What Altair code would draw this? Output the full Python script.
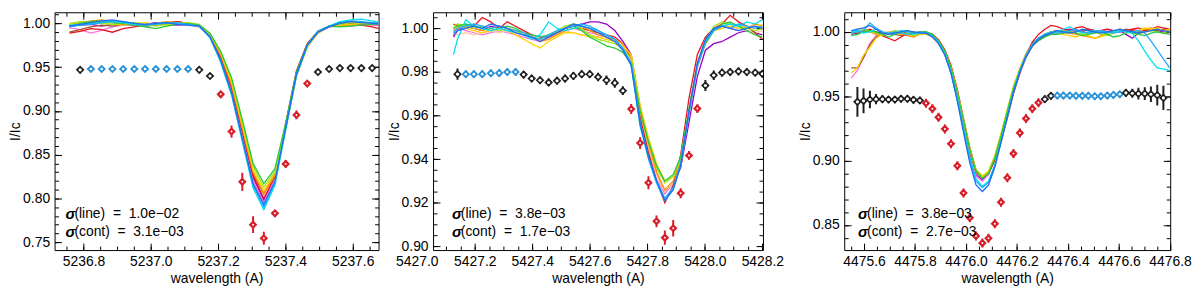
import altair as alt
import pandas as pd

FONT = "Liberation Sans"
FS = 14
MAJ = 7
MIN = 4
H = 240

LINE_COLOR = {
    "purple": "#9b00c8", "pink": "#ff70e0", "brown": "#a0522d", "peach": "#ffc89a",
    "red": "#e8141e", "orange": "#ff9600", "yellow": "#ffd200", "lime": "#a0e614",
    "green": "#28c83c", "cyan": "#00e1f0", "lightblue": "#1eaaff", "blue": "#1e6ef0",
}
POINT_COLOR = {"k": "#1e1e1e", "b": "#2a92d8", "r": "#d81e28"}
HOLE_SIZE = {"k": 10, "b": 4, "r": 4}

# ---------------- Panel 1 : 5237 A ----------------
P1_WL = [5236.758, 5236.790, 5236.822, 5236.854, 5236.886, 5236.918, 5236.951, 5236.983,
         5237.015, 5237.047, 5237.079, 5237.111, 5237.144, 5237.176, 5237.208, 5237.240,
         5237.272, 5237.304, 5237.336, 5237.369, 5237.401, 5237.433, 5237.465, 5237.497,
         5237.530, 5237.562, 5237.594, 5237.626, 5237.658, 5237.690, 5237.723]
P1_LINES = {
    "purple": [0.997, 0.998, 0.999, 0.997, 0.999, 1.000, 0.998, 0.999, 1.001, 0.999, 0.998, 0.999, 0.997]
    + [0.986, 0.962, 0.926, 0.875, 0.824, 0.798, 0.826, 0.882, 0.942, 0.975, 0.990, 0.997]
    + [0.999, 1.000, 0.999, 1.001, 0.999, 0.998],
    "pink": [0.995, 0.993, 0.989, 0.992, 0.996, 0.998, 0.999, 0.997, 0.999, 1.000, 0.999, 0.998, 0.996]
    + [0.985, 0.960, 0.923, 0.872, 0.820, 0.795, 0.824, 0.880, 0.941, 0.974, 0.990, 0.996]
    + [0.998, 0.997, 0.999, 0.998, 0.997, 0.996],
    "brown": [0.990, 0.993, 0.996, 0.998, 0.997, 0.999, 0.998, 0.997, 0.998, 1.000, 1.002, 1.000, 0.997]
    + [0.987, 0.963, 0.928, 0.878, 0.828, 0.805, 0.829, 0.884, 0.944, 0.976, 0.991, 0.997]
    + [0.999, 1.000, 1.001, 1.000, 0.999, 0.998],
    "red": [0.989, 0.991, 0.994, 0.993, 0.990, 0.994, 0.996, 0.998, 0.999, 1.001, 1.002, 1.000, 0.998]
    + [0.986, 0.962, 0.927, 0.877, 0.826, 0.800, 0.825, 0.886, 0.946, 0.977, 0.991, 0.997]
    + [1.000, 0.999, 0.998, 0.996, 0.993, 0.990],
    "orange": [0.999, 1.001, 1.003, 1.004, 1.002, 1.000, 0.999, 0.998, 1.000, 1.002, 1.001, 0.999, 0.997]
    + [0.987, 0.964, 0.930, 0.880, 0.830, 0.806, 0.826, 0.880, 0.940, 0.973, 0.989, 0.996]
    + [0.997, 0.998, 1.000, 1.001, 1.003, 1.005],
    "yellow": [0.998, 1.000, 1.002, 1.001, 0.999, 0.998, 1.000, 1.001, 0.999, 0.998, 1.000, 1.000, 0.998]
    + [0.988, 0.966, 0.933, 0.884, 0.833, 0.809, 0.829, 0.880, 0.940, 0.973, 0.990, 0.997]
    + [0.998, 0.999, 1.000, 1.000, 1.001, 1.000],
    "lime": [1.000, 1.002, 1.001, 1.000, 0.999, 1.000, 1.001, 0.999, 0.997, 0.999, 1.000, 1.001, 0.999]
    + [0.988, 0.967, 0.936, 0.887, 0.837, 0.813, 0.831, 0.884, 0.943, 0.975, 0.990, 0.997]
    + [0.999, 1.001, 1.000, 0.999, 1.000, 1.001],
    "green": [0.997, 1.000, 1.002, 1.003, 1.001, 1.000, 0.998, 0.996, 0.994, 0.997, 0.999, 1.000, 0.998]
    + [0.989, 0.968, 0.938, 0.890, 0.840, 0.817, 0.834, 0.886, 0.945, 0.976, 0.991, 0.997]
    + [0.996, 0.997, 0.998, 0.999, 1.000, 1.001],
    "cyan": [0.998, 0.999, 1.000, 1.001, 1.002, 1.001, 0.999, 0.998, 1.000, 1.001, 1.000, 0.998, 0.997]
    + [0.984, 0.955, 0.918, 0.865, 0.812, 0.787, 0.815, 0.878, 0.940, 0.974, 0.990, 0.997]
    + [1.002, 1.004, 1.005, 1.003, 1.001, 1.000],
    "lightblue": [0.996, 0.998, 0.999, 1.001, 1.003, 1.002, 1.000, 0.998, 0.999, 1.000, 1.001, 0.999, 0.997]
    + [0.984, 0.957, 0.920, 0.867, 0.815, 0.790, 0.818, 0.880, 0.942, 0.975, 0.991, 0.997]
    + [1.001, 1.003, 1.002, 1.001, 1.000, 0.999],
    "blue": [0.997, 0.999, 1.001, 1.003, 1.004, 1.002, 1.000, 0.999, 1.000, 1.001, 0.999, 0.998, 0.997]
    + [0.985, 0.958, 0.921, 0.869, 0.817, 0.793, 0.820, 0.881, 0.942, 0.975, 0.990, 0.996]
    + [1.000, 1.002, 1.001, 1.000, 0.999, 0.998],
}
P1_PX = P1_WL[1:29]
P1_PY = [0.947, 0.948, 0.948, 0.948, 0.948, 0.948, 0.948, 0.948, 0.948, 0.948, 0.948,
         0.947, 0.940, 0.919, 0.8765, 0.819, 0.770, 0.7545, 0.783, 0.8395, 0.8954, 0.9313,
         0.9445, 0.948, 0.949, 0.949, 0.949, 0.949]
P1_PE = [0.003, 0.003, 0.003, 0.003, 0.003, 0.003, 0.003, 0.003, 0.003, 0.003, 0.003,
         0.003, 0.003, 0.004, 0.007, 0.0105, 0.0095, 0.0075, 0.004, 0.0045, 0.005, 0.003,
         0.003, 0.003, 0.003, 0.003, 0.003, 0.003]
P1_PC = "k" + "bbbbbbbbbb" + "kk" + "rrrrrrrrr" + "kkkkkk"
P1_XDOM = [5236.714, 5237.677]
P1_YDOM = [0.741, 1.0128]
P1_XMAJ = [5236.8, 5237.0, 5237.2, 5237.4, 5237.6]
P1_XMIN = [5236.75, 5236.8, 5236.85, 5236.9, 5236.95, 5237.0, 5237.05, 5237.1, 5237.15, 5237.2,
           5237.25, 5237.3, 5237.35, 5237.4, 5237.45, 5237.5, 5237.55, 5237.6, 5237.65]
P1_YMAJ = [0.75, 0.80, 0.85, 0.90, 0.95, 1.00]
P1_YMIN = [0.75, 0.76, 0.77, 0.78, 0.79, 0.80, 0.81, 0.82, 0.83, 0.84, 0.85, 0.86, 0.87, 0.88,
           0.89, 0.90, 0.91, 0.92, 0.93, 0.94, 0.95, 0.96, 0.97, 0.98, 0.99, 1.00, 1.01]
P1_SIGMA = [("σ", "(line)\u00a0\u00a0=\u00a0\u00a01.0e\u221202"),
            ("σ", "(cont)\u00a0\u00a0=\u00a0\u00a03.1e\u221203")]

# ---------------- Panel 2 : 5427 A ----------------
P2_WL = [5427.126, 5427.140, 5427.169, 5427.197, 5427.226, 5427.256, 5427.285, 5427.313,
         5427.342, 5427.370, 5427.398, 5427.427, 5427.457, 5427.486, 5427.514, 5427.543,
         5427.572, 5427.600, 5427.629, 5427.658, 5427.687, 5427.715, 5427.744, 5427.775,
         5427.804, 5427.832, 5427.861, 5427.890, 5427.916, 5427.945, 5427.974, 5428.002,
         5428.031, 5428.060, 5428.088, 5428.117, 5428.146, 5428.175, 5428.200]
P2_LINES = {
    "purple": [0.996, 0.999, 1.001, 1.000, 0.999, 1.001, 1.000, 0.999, 0.998, 0.997, 0.996, 0.995, 0.996]
    + [0.998, 1.000, 1.001, 1.002, 1.003, 1.003, 1.002, 0.999, 0.994, 0.988, 0.964, 0.948, 0.934]
    + [0.925, 0.929, 0.936, 0.957, 0.978, 0.990, 0.993, 0.994, 0.996, 0.998, 0.999, 0.998, 0.997],
    "pink": [0.999, 1.000, 0.999, 0.998, 0.997, 0.998, 0.999, 0.998, 0.997, 0.996, 0.995, 0.994, 0.996]
    + [0.998, 0.999, 1.000, 0.999, 0.998, 0.997, 0.996, 0.994, 0.990, 0.983, 0.958, 0.943, 0.931]
    + [0.924, 0.929, 0.937, 0.961, 0.982, 0.993, 0.999, 1.001, 1.000, 0.999, 1.000, 1.001, 1.000],
    "peach": [0.998, 0.997, 0.998, 0.997, 0.998, 0.999, 0.998, 0.999, 0.998, 0.997, 0.996, 0.995, 0.996]
    + [0.997, 0.999, 0.998, 0.997, 0.997, 0.996, 0.995, 0.994, 0.991, 0.985, 0.960, 0.945, 0.933]
    + [0.925, 0.929, 0.938, 0.962, 0.983, 0.994, 0.999, 1.000, 1.001, 1.000, 0.999, 0.998, 0.999],
    "red": [1.002, 1.001, 1.000, 1.001, 1.005, 1.003, 1.000, 1.003, 1.001, 0.999, 0.997, 0.996, 0.996]
    + [0.998, 1.000, 1.001, 1.000, 0.999, 0.998, 0.997, 0.996, 0.993, 0.986, 0.959, 0.943, 0.930]
    + [0.920, 0.928, 0.942, 0.968, 0.988, 0.996, 1.000, 1.002, 1.006, 1.003, 1.001, 0.998, 0.995],
    "orange": [0.999, 1.000, 1.001, 1.000, 0.999, 1.000, 1.001, 1.000, 0.999, 0.998, 0.996, 0.994, 0.995]
    + [0.997, 0.999, 1.000, 1.001, 0.999, 0.997, 0.996, 0.995, 0.993, 0.987, 0.962, 0.947, 0.934]
    + [0.926, 0.930, 0.939, 0.963, 0.984, 0.995, 1.000, 1.001, 1.002, 1.001, 1.000, 1.002, 1.001],
    "yellow": [1.000, 1.001, 1.000, 0.999, 0.998, 0.999, 1.000, 0.999, 0.997, 0.995, 0.993, 0.991, 0.994]
    + [0.996, 0.998, 0.998, 0.997, 0.996, 0.996, 0.995, 0.994, 0.992, 0.988, 0.965, 0.950, 0.938]
    + [0.930, 0.932, 0.940, 0.963, 0.984, 0.995, 0.999, 1.000, 1.001, 1.000, 1.001, 1.000, 1.002],
    "lime": [1.001, 1.002, 1.001, 1.000, 1.001, 1.000, 0.999, 1.000, 0.999, 0.997, 0.996, 0.995, 0.997]
    + [0.999, 1.001, 1.002, 1.000, 0.997, 0.995, 0.994, 0.993, 0.991, 0.986, 0.963, 0.948, 0.936]
    + [0.929, 0.932, 0.940, 0.962, 0.983, 0.994, 1.001, 1.003, 1.002, 1.001, 1.000, 0.999, 1.000],
    "green": [1.000, 1.001, 1.002, 1.001, 1.000, 0.999, 1.000, 1.001, 1.000, 0.998, 0.997, 0.996, 0.997]
    + [0.998, 1.000, 1.001, 0.999, 0.996, 0.994, 0.992, 0.991, 0.989, 0.984, 0.962, 0.948, 0.937]
    + [0.930, 0.933, 0.941, 0.963, 0.983, 0.993, 0.999, 1.002, 1.003, 1.001, 0.999, 0.997, 0.996],
    "cyan": [0.988, 0.995, 1.004, 1.001, 1.000, 0.999, 1.000, 0.999, 0.998, 0.997, 0.995, 0.997, 1.003]
    + [1.000, 0.999, 1.000, 1.001, 1.000, 0.999, 0.997, 0.995, 0.991, 0.983, 0.955, 0.940, 0.929]
    + [0.921, 0.926, 0.937, 0.961, 0.983, 0.994, 1.000, 1.001, 1.002, 1.001, 1.003, 1.002, 1.004],
    "lightblue": [0.998, 1.000, 1.001, 1.002, 1.001, 1.000, 1.001, 1.000, 0.999, 0.998, 0.996, 0.995, 0.997]
    + [0.999, 1.000, 1.001, 1.002, 1.001, 0.999, 0.997, 0.995, 0.991, 0.984, 0.957, 0.941, 0.930]
    + [0.922, 0.927, 0.938, 0.962, 0.983, 0.994, 0.999, 1.001, 1.000, 1.002, 1.001, 1.000, 1.001],
    "blue": [0.997, 0.999, 1.000, 1.001, 1.000, 1.002, 1.001, 1.000, 0.998, 0.997, 0.996, 0.994, 0.996]
    + [0.998, 1.000, 1.002, 1.001, 1.000, 0.998, 0.996, 0.994, 0.990, 0.983, 0.956, 0.941, 0.930]
    + [0.921, 0.926, 0.937, 0.962, 0.984, 0.995, 1.000, 1.001, 1.000, 0.999, 1.000, 1.001, 1.000],
}
P2_PX = P2_WL[1:39]
P2_PY = [0.979, 0.979, 0.979, 0.979, 0.9794, 0.9795, 0.980, 0.980,
         0.9788, 0.977, 0.9762, 0.9752, 0.976, 0.977, 0.9782, 0.979, 0.979, 0.9777, 0.9762, 0.975, 0.9714,
         0.963, 0.9474, 0.9292, 0.9115, 0.904, 0.9083, 0.9244, 0.9417, 0.9632,
         0.9738, 0.9785, 0.9797, 0.980, 0.9803, 0.980, 0.9797, 0.9792]
P2_PE = [0.0026, 0.0017, 0.0017, 0.0017, 0.0017, 0.0017, 0.0017, 0.0017,
         0.0017, 0.0017, 0.0017, 0.0018, 0.0018, 0.0018, 0.0018, 0.0018, 0.0018, 0.0019, 0.0022, 0.0022, 0.002,
         0.0023, 0.0027, 0.003, 0.0027, 0.0033, 0.0038, 0.0023, 0.002, 0.002,
         0.0025, 0.0022, 0.0018, 0.0018, 0.0018, 0.0017, 0.0017, 0.0017]
P2_PC = "k" + "bbbbbbb" + "kkkkkkkkkkkkk" + "rrrrrrrrr" + "kkkkkkkk"
P2_XDOM = [5427.055, 5428.2022]
P2_YDOM = [0.8983, 1.0074]
P2_XMAJ = [5427.2, 5427.4, 5427.6, 5427.8, 5428.0, 5428.2]
P2_XMIN = [5427.10, 5427.15, 5427.20, 5427.25, 5427.30, 5427.35, 5427.40, 5427.45, 5427.50,
           5427.55, 5427.60, 5427.65, 5427.70, 5427.75, 5427.80, 5427.85, 5427.90, 5427.95,
           5428.00, 5428.05, 5428.10, 5428.15, 5428.20]
P2_YMAJ = [0.90, 0.92, 0.94, 0.96, 0.98, 1.00]
P2_YMIN = [0.900, 0.905, 0.910, 0.915, 0.920, 0.925, 0.930, 0.935, 0.940, 0.945, 0.950,
           0.955, 0.960, 0.965, 0.970, 0.975, 0.980, 0.985, 0.990, 0.995, 1.000, 1.005]
P2_EXTRA_XLABELS = [5427.0]
P2_SIGMA = [("σ", "(line)\u00a0\u00a0=\u00a0\u00a03.8e\u221203"),
            ("σ", "(cont)\u00a0\u00a0=\u00a0\u00a01.7e\u221203")]

# ---------------- Panel 3 : 4476 A ----------------
P3_WL = [4475.550,
         4475.574, 4475.598, 4475.623, 4475.647, 4475.672, 4475.696, 4475.721, 4475.745, 4475.770, 4475.794,
         4475.819, 4475.843, 4475.868, 4475.892, 4475.917, 4475.941, 4475.966, 4475.990, 4476.015, 4476.039,
         4476.064, 4476.088, 4476.113, 4476.137, 4476.162, 4476.186, 4476.211, 4476.235, 4476.260, 4476.284,
         4476.309, 4476.333, 4476.358, 4476.382, 4476.407, 4476.431, 4476.456, 4476.480, 4476.505, 4476.529,
         4476.554, 4476.578, 4476.603, 4476.627, 4476.652, 4476.676, 4476.701, 4476.725, 4476.750, 4476.774,
         4476.799]
P3_LINES = {
    "purple": [0.998, 0.999, 1.000, 1.001, 1.000, 0.999, 0.998, 0.999, 1.000, 0.999, 0.998, 0.999]
    + [0.999, 0.997, 0.992, 0.983, 0.970, 0.950, 0.928, 0.905, 0.889, 0.885, 0.890, 0.902, 0.918, 0.936, 0.953, 0.968, 0.980, 0.989, 0.994, 0.997, 0.999]
    + [1.000, 1.001, 1.002, 1.001, 1.000, 1.002, 1.001, 1.000, 0.999, 1.000, 1.001, 0.998, 0.995, 0.999, 1.001, 1.002, 1.001, 1.000, 1.000],
    "pink": [0.964, 0.970, 0.980, 0.991, 0.997, 0.999, 1.000, 0.999, 0.998, 0.997, 0.998, 0.999]
    + [0.999, 0.996, 0.991, 0.983, 0.969, 0.949, 0.927, 0.904, 0.888, 0.884, 0.889, 0.901, 0.917, 0.936, 0.954, 0.969, 0.981, 0.990, 0.995, 0.998, 1.000]
    + [1.000, 0.999, 1.000, 1.001, 1.000, 0.999, 1.000, 1.001, 1.002, 1.001, 1.000, 1.001, 1.002, 1.001, 1.000, 1.001, 1.002, 1.001, 1.000],
    "brown": [0.972, 0.972, 0.980, 0.990, 0.996, 0.998, 0.999, 0.998, 0.997, 0.998, 0.999, 1.000]
    + [1.000, 0.998, 0.993, 0.985, 0.972, 0.952, 0.930, 0.907, 0.891, 0.886, 0.891, 0.903, 0.920, 0.939, 0.957, 0.971, 0.983, 0.991, 0.995, 0.998, 1.000]
    + [1.001, 1.000, 0.999, 1.000, 1.001, 1.002, 1.001, 1.000, 0.999, 1.000, 1.001, 1.002, 1.001, 1.000, 1.001, 1.002, 1.001, 1.002, 1.001],
    "red": [1.000, 0.999, 1.001, 1.002, 1.000, 0.997, 0.995, 0.993, 0.996, 0.999, 1.000, 0.999]
    + [0.999, 0.998, 0.994, 0.986, 0.974, 0.955, 0.933, 0.910, 0.893, 0.888, 0.890, 0.900, 0.915, 0.933, 0.952, 0.968, 0.982, 0.992, 0.998, 1.002, 1.005]
    + [1.004, 1.002, 1.001, 1.003, 1.004, 1.002, 1.000, 1.001, 1.002, 1.001, 1.000, 1.001, 1.002, 1.003, 1.001, 1.002, 1.004, 1.003, 1.002],
    "orange": [0.999, 1.000, 1.001, 1.000, 0.998, 0.997, 0.999, 1.000, 0.999, 0.997, 0.996, 0.998]
    + [0.999, 0.997, 0.993, 0.985, 0.973, 0.953, 0.931, 0.908, 0.892, 0.887, 0.891, 0.902, 0.918, 0.936, 0.954, 0.969, 0.981, 0.989, 0.994, 0.998, 1.000]
    + [1.001, 1.000, 0.999, 0.998, 0.997, 0.996, 0.995, 0.997, 0.999, 1.000, 1.002, 1.001, 1.000, 1.001, 1.002, 1.003, 1.002, 1.001, 1.000],
    "yellow": [0.968, 0.972, 0.982, 0.988, 0.995, 0.998, 1.000, 0.999, 0.998, 0.999, 0.998, 0.998]
    + [0.998, 0.996, 0.991, 0.983, 0.971, 0.952, 0.931, 0.909, 0.893, 0.888, 0.892, 0.904, 0.921, 0.940, 0.958, 0.972, 0.983, 0.990, 0.994, 0.996, 0.998]
    + [0.999, 0.998, 0.997, 0.996, 0.998, 0.997, 0.995, 0.996, 0.998, 1.000, 1.001, 1.000, 0.999, 1.001, 1.003, 1.002, 1.003, 1.001, 1.002],
    "lime": [0.999, 1.000, 1.002, 1.001, 0.999, 0.998, 0.999, 1.001, 1.000, 0.998, 0.997, 0.999]
    + [0.999, 0.997, 0.992, 0.984, 0.972, 0.953, 0.932, 0.909, 0.893, 0.887, 0.891, 0.903, 0.920, 0.939, 0.957, 0.971, 0.982, 0.990, 0.994, 0.997, 0.999]
    + [1.000, 1.001, 1.000, 0.999, 0.998, 0.999, 1.000, 0.998, 0.997, 0.999, 1.001, 1.000, 0.999, 0.998, 1.000, 1.001, 1.000, 0.999, 1.001],
    "green": [0.997, 0.998, 1.000, 1.001, 1.000, 0.998, 0.996, 0.998, 1.000, 1.001, 0.999, 1.000]
    + [1.000, 0.998, 0.993, 0.985, 0.972, 0.952, 0.931, 0.908, 0.892, 0.886, 0.890, 0.902, 0.919, 0.938, 0.956, 0.970, 0.981, 0.989, 0.993, 0.996, 0.998]
    + [0.998, 0.999, 1.000, 0.999, 0.997, 0.998, 0.999, 1.000, 0.998, 0.996, 0.997, 0.999, 1.000, 0.998, 0.997, 0.999, 1.000, 0.999, 0.998],
    "cyan": [1.000, 1.001, 0.999, 1.000, 1.002, 1.000, 0.998, 0.999, 1.001, 1.000, 0.998, 0.999]
    + [0.999, 0.997, 0.992, 0.983, 0.969, 0.948, 0.925, 0.902, 0.886, 0.880, 0.884, 0.897, 0.915, 0.935, 0.954, 0.970, 0.982, 0.990, 0.995, 0.998, 1.000]
    + [1.000, 1.002, 1.004, 1.001, 0.999, 1.000, 1.001, 1.000, 0.999, 1.000, 1.001, 1.000, 0.999, 0.993, 0.985, 0.978, 0.972, 0.971, 0.970],
    "lightblue": [0.999, 1.000, 1.001, 1.007, 1.003, 1.000, 0.999, 1.000, 0.999, 0.998, 0.999, 1.000]
    + [0.999, 0.997, 0.991, 0.982, 0.968, 0.947, 0.924, 0.900, 0.884, 0.879, 0.883, 0.896, 0.914, 0.934, 0.953, 0.969, 0.981, 0.990, 0.995, 0.998, 0.999]
    + [0.999, 1.000, 1.001, 1.002, 1.000, 0.999, 1.000, 1.001, 1.000, 0.999, 1.000, 1.001, 1.000, 1.001, 0.999, 0.993, 0.986, 0.979, 0.972],
    "blue": [1.001, 1.002, 1.003, 1.005, 1.002, 0.999, 0.998, 0.999, 1.000, 1.001, 1.000, 0.999]
    + [0.999, 0.996, 0.991, 0.982, 0.968, 0.946, 0.922, 0.898, 0.881, 0.876, 0.881, 0.895, 0.914, 0.934, 0.953, 0.969, 0.981, 0.989, 0.994, 0.997, 0.999]
    + [1.001, 1.000, 0.999, 1.000, 1.002, 1.001, 1.000, 0.999, 1.000, 1.001, 1.002, 1.001, 1.000, 0.999, 1.000, 1.001, 1.002, 1.001, 1.000],
}
P3_PX = P3_WL[1:51]
P3_PY = [0.9456, 0.9464, 0.9474, 0.9477, 0.9477, 0.9474, 0.9474, 0.948, 0.948, 0.9472, 0.9467,
         0.9446, 0.9403, 0.9336, 0.9246, 0.9131, 0.8959, 0.8749, 0.8556, 0.8415, 0.8359,
         0.8397, 0.851, 0.8677, 0.8867, 0.9054, 0.9215, 0.9326, 0.9403, 0.9449,
         0.9477, 0.9503,
         0.9505, 0.9505, 0.9505, 0.9503, 0.9503, 0.9503, 0.95, 0.95, 0.9505, 0.951, 0.9515,
         0.9526, 0.9523, 0.952, 0.952, 0.9515, 0.9508, 0.9487]
P3_PE = [0.0115, 0.0096, 0.0068, 0.004, 0.003, 0.0028, 0.0028, 0.0028, 0.0028, 0.0028, 0.0028,
         0.0035, 0.0035, 0.0035, 0.0035, 0.0035, 0.0035, 0.0035, 0.0035, 0.0035, 0.0035,
         0.0035, 0.0035, 0.0035, 0.0035, 0.0035, 0.0035, 0.0035, 0.0035, 0.0035,
         0.0028, 0.0028,
         0.0027, 0.0027, 0.0027, 0.0027, 0.0027, 0.0027, 0.0027, 0.0027, 0.0027, 0.0027, 0.0027,
         0.003, 0.0035, 0.0045, 0.005, 0.006, 0.008, 0.0095]
P3_PC = "kkkkkkkkkkk" + "rrrrrrrrrrrrrrrrrrr" + "kk" + "bbbbbbbbbbb" + "kkkkkkk"
P3_XDOM = [4475.5223, 4476.8007]
P3_YDOM = [0.8305, 1.0152]
P3_XMAJ = [4475.6, 4475.8, 4476.0, 4476.2, 4476.4, 4476.6, 4476.8]
P3_XMIN = [4475.55, 4475.6, 4475.65, 4475.7, 4475.75, 4475.8, 4475.85, 4475.9, 4475.95, 4476.0,
           4476.05, 4476.1, 4476.15, 4476.2, 4476.25, 4476.3, 4476.35, 4476.4, 4476.45, 4476.5,
           4476.55, 4476.6, 4476.65, 4476.7, 4476.75, 4476.8]
P3_YMAJ = [0.85, 0.90, 0.95, 1.00]
P3_YMIN = [0.84, 0.85, 0.86, 0.87, 0.88, 0.89, 0.90, 0.91, 0.92, 0.93, 0.94, 0.95, 0.96,
           0.97, 0.98, 0.99, 1.00, 1.01]
P3_SIGMA = [("σ", "(line)\u00a0\u00a0=\u00a0\u00a03.8e\u221203"),
            ("σ", "(cont)\u00a0\u00a0=\u00a0\u00a02.7e\u221203")]


def axis(orient, values, size, labels=False, fmt=None, title=None, tpad=0):
    kw = dict(orient=orient, values=values, tickSize=size, offset=-size, domain=False,
              grid=False, labels=labels, ticks=True, tickColor="black", tickWidth=1, title=title)
    if labels:
        kw.update(format=fmt, labelFont=FONT, labelFontSize=FS, labelColor="black",
                  labelPadding=5, labelFlush=False, labelOverlap=False)
    if title is not None:
        kw.update(titleFont=FONT, titleFontSize=FS, titleFontWeight="normal",
                  titleColor="black", titlePadding=tpad)
    return alt.Axis(**kw)


def panel(wl, lines, px, py, pe, pc, xdom, ydom, xmaj, xmin, ymaj, ymin,
          width, height, sigma, sigma_x, extra=None):
    rows = []
    for name, vals in lines.items():
        for i, (w, v) in enumerate(zip(wl, vals)):
            rows.append({"wl": w, "v": v, "s": name, "k": i})
    ldf = pd.DataFrame(rows)
    pdf = pd.DataFrame({"wl": px, "v": py, "e": pe, "c": list(pc)})
    xs = alt.Scale(domain=xdom, nice=False, zero=False)
    ys = alt.Scale(domain=ydom, nice=False, zero=False)
    names = list(lines.keys())
    cscale = alt.Scale(domain=names, range=[LINE_COLOR[n] for n in names])
    pscale = alt.Scale(domain=list(POINT_COLOR.keys()), range=list(POINT_COLOR.values()))
    hscale = alt.Scale(domain=list(HOLE_SIZE.keys()), range=list(HOLE_SIZE.values()))

    spectra = alt.Chart(ldf).mark_line(strokeWidth=1.3, clip=True).encode(
        x=alt.X("wl:Q", scale=xs, axis=axis("bottom", xmaj, MAJ, True, ".1f", "wavelength (A)", 3)),
        y=alt.Y("v:Q", scale=ys, axis=axis("left", ymaj, MAJ, True, ".2f", "I/Ic", 0)),
        color=alt.Color("s:N", scale=cscale, legend=None),
        order="k:Q",
    )
    bars = alt.Chart(pdf).transform_calculate(
        lo="datum.v - datum.e", hi="datum.v + datum.e"
    ).mark_rule(strokeWidth=2, clip=True).encode(
        x=alt.X("wl:Q", scale=xs, axis=axis("bottom", xmin, MIN)),
        y=alt.Y("lo:Q", scale=ys, axis=axis("left", ymin, MIN)),
        y2="hi:Q",
        color=alt.Color("c:N", scale=pscale, legend=None),
    )
    diamonds = alt.Chart(pdf).mark_point(shape="diamond", filled=True, size=76, opacity=1,
                                         strokeWidth=0, clip=True).encode(
        x=alt.X("wl:Q", scale=xs, axis=axis("top", xmaj, MAJ)),
        y=alt.Y("v:Q", scale=ys, axis=axis("right", ymaj, MAJ)),
        color=alt.Color("c:N", scale=pscale, legend=None),
    )
    holes = alt.Chart(pdf).mark_point(shape="circle", filled=True, opacity=1,
                                      color="white", strokeWidth=0, clip=True).encode(
        x=alt.X("wl:Q", scale=xs, axis=axis("top", xmin, MIN)),
        y=alt.Y("v:Q", scale=ys, axis=axis("right", ymin, MIN)),
        size=alt.Size("c:N", scale=hscale, legend=None),
    )
    layers = [spectra, bars, diamonds, holes]
    for j, (sym, rest) in enumerate(sigma):
        ypos = height - 36 + 18 * j
        layers.append(
            alt.Chart(pd.DataFrame({"t": [sym]})).mark_text(
                align="left", baseline="middle", font=FONT, fontSize=FS + 1, fontWeight="bold",
                fontStyle="italic", color="black"
            ).encode(text="t:N", x=alt.value(sigma_x), y=alt.value(ypos))
        )
        layers.append(
            alt.Chart(pd.DataFrame({"t": [rest]})).mark_text(
                align="left", baseline="middle", font=FONT, fontSize=FS, color="black"
            ).encode(text="t:N", x=alt.value(sigma_x + 9), y=alt.value(ypos))
        )
    if extra:
        layers.append(
            alt.Chart(pd.DataFrame({"wl": extra})).mark_text(
                baseline="top", align="center", font=FONT, fontSize=FS, color="black"
            ).encode(x=alt.X("wl:Q", scale=xs, axis=None), y=alt.value(height + 5),
                     text=alt.Text("wl:Q", format=".1f"))
        )
    return alt.layer(*layers).resolve_scale(color="independent", size="independent").resolve_axis(
        x="independent", y="independent").properties(width=width, height=height)


def spacer(w):
    return alt.Chart(pd.DataFrame({"a": [0]})).mark_point(opacity=0).encode(
        x=alt.value(0), y=alt.value(0)
    ).properties(width=w, height=H, view=alt.ViewBackground(strokeOpacity=0))


p1 = panel(P1_WL[:30], P1_LINES, P1_PX, P1_PY, P1_PE, P1_PC, P1_XDOM, P1_YDOM, P1_XMAJ, P1_XMIN,
           P1_YMAJ, P1_YMIN, 327, H, P1_SIGMA, 11)
p2 = panel(P2_WL, P2_LINES, P2_PX, P2_PY, P2_PE, P2_PC, P2_XDOM, P2_YDOM, P2_XMAJ, P2_XMIN,
           P2_YMAJ, P2_YMIN, 333, H, P2_SIGMA, 19, P2_EXTRA_XLABELS)
p3 = panel(P3_WL, P3_LINES, P3_PX, P3_PY, P3_PE, P3_PC, P3_XDOM, P3_YDOM, P3_XMAJ, P3_XMIN,
           P3_YMAJ, P3_YMIN, 329, H, P3_SIGMA, 14)

chart = alt.hconcat(p1, spacer(55), p2, spacer(82), p3, spacing=0, bounds="flush").properties(
    padding={"left": 0, "top": 0, "right": 0, "bottom": 0}, background="white"
).configure_view(stroke="black", strokeWidth=1)

chart.save("out.html", embed_options={"renderer": "svg", "actions": False})
